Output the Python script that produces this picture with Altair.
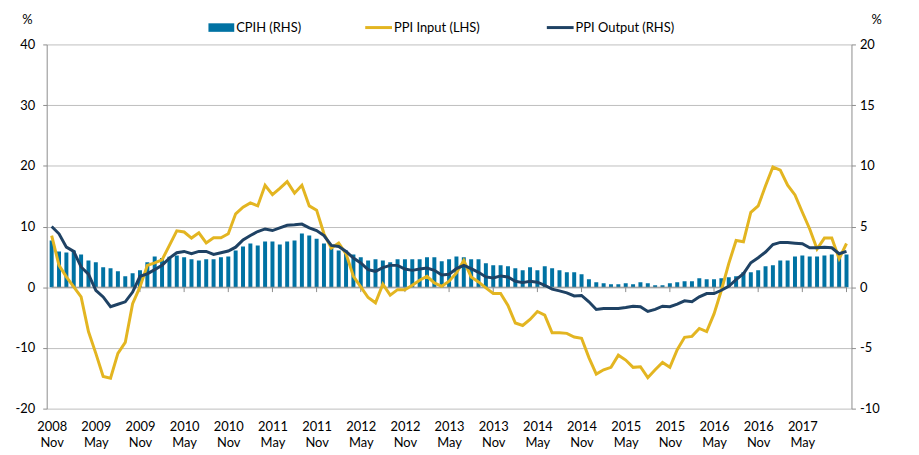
import altair as alt
import pandas as pd

# Monthly, Nov 2008 .. Nov 2017 (109 points)
cpih = [3.85, 2.95, 2.87, 3.03, 2.7, 2.2, 2.05, 1.64, 1.56, 1.31, 0.9, 1.15, 1.4, 2.05, 2.54, 2.4, 2.5, 2.62,
        2.46, 2.3, 2.21, 2.3, 2.3, 2.46, 2.54, 3.03, 3.36, 3.6, 3.44, 3.77, 3.77, 3.52, 3.77, 3.85, 4.43, 4.26,
        4.0, 3.6, 3.22, 3.03, 3.03, 2.7, 2.46, 2.2, 2.3, 2.2, 2.05, 2.3, 2.3, 2.3, 2.3, 2.46, 2.46, 2.13,
        2.3, 2.54, 2.46, 2.3, 2.3, 1.97, 1.8, 1.8, 1.72, 1.56, 1.39, 1.64, 1.39, 1.72, 1.56, 1.39, 1.23, 1.23,
        1.07, 0.66, 0.41, 0.33, 0.25, 0.25, 0.33, 0.25, 0.41, 0.33, 0.16, 0.16, 0.33, 0.41, 0.49, 0.49, 0.74, 0.66,
        0.66, 0.74, 0.82, 0.9, 1.23, 1.23, 1.39, 1.72, 1.8, 2.21, 2.21, 2.54, 2.62, 2.54, 2.54, 2.62, 2.7, 2.62, 2.7]
ppi_input = [8.5, 3.6, 1.7, 0.05, -1.6, -7.3, -10.9, -14.7, -15.0, -10.9, -9.1, -2.7, 0.05, 3.6, 4.0, 4.5, 6.9, 9.3,
             9.1, 8.1, 8.96, 7.3, 8.14, 8.14, 8.8, 12.1, 13.2, 13.9, 13.4, 16.8, 15.25, 16.3, 17.4, 15.5, 16.8, 13.4,
             12.7, 8.8, 6.45, 7.27, 5.5, 1.8, 0.05, -1.7, -2.57, 0.5, -1.3, -0.4, -0.4, 0.33, 1.15, 1.8, 0.7, 0.16,
             1.0, 2.35, 4.4, 1.7, 0.87, -0.1, -1.04, -1.04, -3.0, -5.9, -6.3, -5.3, -4.0, -4.6, -7.5, -7.5, -7.6, -8.2,
             -8.4, -11.6, -14.3, -13.6, -13.2, -11.2, -12.0, -13.2, -13.1, -14.9, -13.6, -12.4, -13.2, -10.3, -8.25, -8.1, -6.8, -7.3,
             -4.4, -0.5, 3.9, 7.7, 7.5, 12.35, 13.4, 16.7, 19.8, 19.3, 16.8, 15.2, 12.35, 9.6, 6.3, 8.1, 8.1, 4.7, 7.2]
ppi_output = [5.0, 4.4, 3.3, 2.95, 1.67, 1.07, -0.25, -0.8, -1.6, -1.4, -1.2, -0.4, 0.9, 1.1, 1.45, 1.8, 2.4, 2.84,
              2.95, 2.76, 2.95, 2.95, 2.7, 2.84, 2.98, 3.3, 3.9, 4.26, 4.59, 4.8, 4.67, 4.89, 5.1, 5.14, 5.2, 4.89,
              4.67, 4.26, 3.44, 3.36, 2.95, 2.4, 2.0, 1.45, 1.31, 1.61, 1.8, 1.8, 1.5, 1.39, 1.5, 1.58, 1.39, 1.01,
              1.07, 1.53, 1.8, 1.53, 1.23, 0.85, 0.77, 0.93, 0.85, 0.49, 0.38, 0.49, 0.41, 0.16, -0.16, -0.3, -0.46, -0.72,
              -0.68, -1.2, -1.83, -1.75, -1.75, -1.75, -1.67, -1.56, -1.61, -2.0, -1.83, -1.56, -1.61, -1.39, -1.12, -1.2, -0.79, -0.52,
              -0.52, -0.25, 0.08, 0.63, 1.12, 2.02, 2.43, 2.9, 3.52, 3.69, 3.69, 3.63, 3.58, 3.25, 3.25, 3.3, 3.25, 2.76, 2.95]

tick_idx = [0, 6, 12, 18, 24, 30, 36, 42, 48, 54, 60, 66, 72, 78, 84, 90, 96, 102]
tick_years = ["2008", "2009", "2009", "2010", "2010", "2011", "2011", "2012", "2012",
              "2013", "2013", "2014", "2014", "2015", "2015", "2016", "2016", "2017"]
tick_months = ["Nov", "May"] * 9
lhs_ticks = [-20, -10, 0, 10, 20, 30, 40]
rhs_ticks = [-10, -5, 0, 5, 10, 15, 20]

df = pd.DataFrame({"i": list(range(len(cpih))), "cpih": cpih, "ppi_in": ppi_input, "ppi_out": ppi_output})
ticks_df = pd.DataFrame({"i": tick_idx[1:] + [108]})

FONT = "Lato"
FS = 13
BLUE = "#0072A3"
YELLOW = "#E3B521"
DARK = "#1F4264"
AXISGRAY = "#8C8C8C"
GRIDGRAY = "#BEBEBE"

years_js = "[" + ",".join(f"'{y}'" for y in tick_years) + "]"
months_js = "[" + ",".join(f"'{m}'" for m in tick_months) + "]"

x_axis = alt.Axis(values=tick_idx,
                  labelExpr=f"[{years_js}[round(datum.value/6)], {months_js}[round(datum.value/6)]]",
                  domain=False, ticks=False, grid=False, labelFont=FONT, labelFontSize=FS,
                  labelColor="#000000", labelPadding=12, labelLineHeight=16, labelBaseline="top",
                  labelFlush=False, labelOverlap=False, title=None)
xs = alt.Scale(domain=[0, 108], nice=False, zero=False)
X = alt.X("i:Q", scale=xs, axis=x_axis)

rhs_scale = alt.Scale(domain=[-10, 20], nice=False)
lhs_scale = alt.Scale(domain=[-20, 40], nice=False)

bars = alt.Chart(df).mark_bar(size=4, color=BLUE, clip=True).encode(
    x=X,
    y=alt.Y("cpih:Q", scale=rhs_scale,
            axis=alt.Axis(orient="right", values=rhs_ticks, grid=False, labelExpr="toString(datum.value)",
                          domainColor=AXISGRAY, tickColor=AXISGRAY, tickSize=4, labelPadding=4,
                          labelFont=FONT, labelFontSize=FS, labelColor="#000000",
                          title="%", titleAngle=0, titleX=25, titleY=-25, titleFont=FONT,
                          titleFontSize=FS, titleFontWeight="normal", titleAlign="center",
                          titleBaseline="middle")),
    y2=alt.datum(0),
)

zero_rule = alt.Chart(df).mark_rule(color=AXISGRAY, strokeWidth=1).encode(
    x=alt.X("min(i):Q", scale=xs, axis=x_axis),
    x2="max(i):Q",
    y=alt.Y(datum=0, scale=rhs_scale, axis=None),
)

tick_marks = alt.Chart(ticks_df).mark_rule(color=AXISGRAY, strokeWidth=1).encode(
    x=X,
    y=alt.Y(datum=0, scale=rhs_scale, axis=None),
    y2=alt.datum(-0.4),
)

line_in = alt.Chart(df).mark_line(color=YELLOW, strokeWidth=3, clip=True).encode(
    x=X,
    y=alt.Y("ppi_in:Q", scale=lhs_scale,
            axis=alt.Axis(orient="left", values=lhs_ticks, grid=True, labelExpr="toString(datum.value)",
                          gridColor=GRIDGRAY, domainColor=AXISGRAY, tickColor=AXISGRAY, tickSize=4,
                          labelPadding=8, labelFont=FONT, labelFontSize=FS, labelColor="#000000",
                          title="%", titleAngle=0, titleX=-20, titleY=-25, titleFont=FONT,
                          titleFontSize=FS, titleFontWeight="normal", titleAlign="center",
                          titleBaseline="middle")),
)

line_out = alt.Chart(df).mark_line(color=DARK, strokeWidth=3, clip=True).encode(
    x=X,
    y=alt.Y("ppi_out:Q", scale=rhs_scale, axis=None),
)

one = pd.DataFrame({"k": [0]})
LY = -17
leg_rect = alt.Chart(one).mark_rect(color=BLUE).encode(
    x=alt.value(163), x2=alt.value(189), y=alt.value(LY - 4.3), y2=alt.value(LY + 4.3))
leg_in = alt.Chart(one).mark_rule(color=YELLOW, strokeWidth=3).encode(
    x=alt.value(321), x2=alt.value(348), y=alt.value(LY))
leg_out = alt.Chart(one).mark_rule(color=DARK, strokeWidth=3).encode(
    x=alt.value(504), x2=alt.value(531), y=alt.value(LY))
txt_kw = dict(font=FONT, fontSize=FS, align="left", baseline="middle", color="#000000")
t1 = alt.Chart(one).mark_text(text="CPIH (RHS)", **txt_kw).encode(x=alt.value(191), y=alt.value(LY))
t2 = alt.Chart(one).mark_text(text="PPI Input (LHS)", **txt_kw).encode(x=alt.value(350), y=alt.value(LY))
t3 = alt.Chart(one).mark_text(text="PPI Output (RHS)", **txt_kw).encode(x=alt.value(533), y=alt.value(LY))

chart = alt.layer(
    bars, zero_rule, tick_marks, line_in, line_out,
    leg_rect, leg_in, leg_out, t1, t2, t3
).resolve_scale(y="independent").properties(
    width=811, height=367, autosize="none",
    padding={"left": 39, "top": 35, "right": 60, "bottom": 42},
    background="#ffffff",
).configure_view(stroke=None)

chart.save("out.html", embed_options={"renderer": "svg", "actions": False})
